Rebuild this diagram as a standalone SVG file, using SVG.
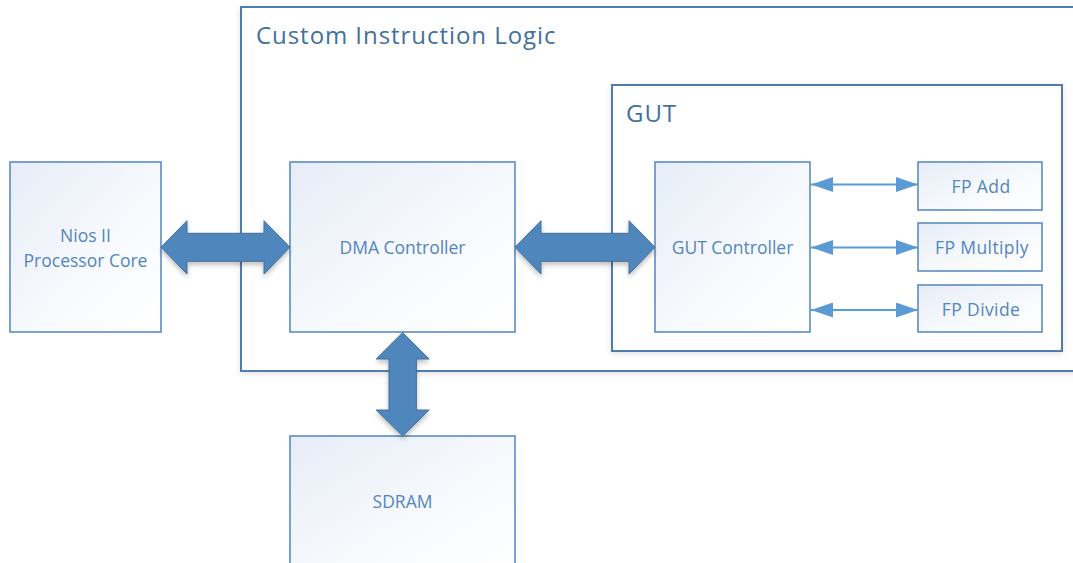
<svg xmlns="http://www.w3.org/2000/svg" width="1073" height="563" viewBox="0 0 1073 563">
  <style>
    .frame { fill: #ffffff; stroke: #4f7cad; stroke-width: 2; }
    .block { fill: url(#blockFill); stroke: #5b8cc2; stroke-width: 1.6; }
    .title { font-family: "Open Sans", "Noto Sans", sans-serif; font-size: 24px; letter-spacing: 0.95px; fill: #41719c; }
    .label { font-family: "Open Sans", "Noto Sans", sans-serif; font-size: 17.5px; fill: #5286c0; text-anchor: middle; }
    .small { font-size: 17.5px; letter-spacing: 0.4px; }
    .bus { fill: #4f87bd; stroke: #41719c; stroke-width: 1; filter: url(#softShadow); }
    .link { stroke: #5b9bd5; stroke-width: 2; fill: none; marker-start: url(#headStart); marker-end: url(#headEnd); }
  </style>
  <defs>
    <linearGradient id="blockFill" x1="0" y1="0" x2="1" y2="1">
      <stop offset="0" stop-color="#e6edf7"/>
      <stop offset="0.6" stop-color="#f8fafd"/>
      <stop offset="1" stop-color="#ffffff"/>
    </linearGradient>
    <filter id="softShadow" x="-20%" y="-20%" width="140%" height="150%">
      <feGaussianBlur in="SourceAlpha" stdDeviation="2.5"/>
      <feOffset dx="0" dy="3" result="blur"/>
      <feComponentTransfer><feFuncA type="linear" slope="0.25"/></feComponentTransfer>
      <feMerge><feMergeNode/><feMergeNode in="SourceGraphic"/></feMerge>
    </filter>
    <filter id="frameShadow" x="-5%" y="-5%" width="110%" height="115%">
      <feGaussianBlur in="SourceAlpha" stdDeviation="3"/>
      <feOffset dx="0" dy="2"/>
      <feComponentTransfer><feFuncA type="linear" slope="0.12"/></feComponentTransfer>
      <feMerge><feMergeNode/><feMergeNode in="SourceGraphic"/></feMerge>
    </filter>
    <marker id="headEnd" markerUnits="userSpaceOnUse" markerWidth="24" markerHeight="16" refX="22" refY="7.5" orient="auto">
      <path d="M0,0 L22,7.5 L0,15 Z" fill="#5b9bd5"/>
    </marker>
    <marker id="headStart" markerUnits="userSpaceOnUse" markerWidth="24" markerHeight="16" refX="0" refY="7.5" orient="auto">
      <path d="M22,0 L0,7.5 L22,15 Z" fill="#5b9bd5"/>
    </marker>
  </defs>

  <!-- outer container -->
  <g id="custom-instruction-logic">
    <rect class="frame" x="241" y="7" width="850" height="364" filter="url(#frameShadow)"/>
    <text class="title" x="256" y="44">Custom Instruction Logic</text>
  </g>

  <g id="gut">
    <rect class="frame" x="612" y="85" width="450" height="266" filter="url(#frameShadow)"/>
    <text class="title" x="626" y="122">GUT</text>
  </g>

  <g id="nios">
    <rect class="block" x="10" y="162" width="151" height="170"/>
    <text class="label" x="85.5" y="242">Nios II</text>
    <text class="label" x="85.5" y="267">Processor Core</text>
  </g>

  <g id="dma-controller">
    <rect class="block" x="290" y="162" width="225" height="170"/>
    <text class="label" x="402.5" y="254">DMA Controller</text>
  </g>

  <g id="gut-controller">
    <rect class="block" x="655" y="162" width="155" height="170"/>
    <text class="label" x="732.5" y="254">GUT Controller</text>
  </g>

  <g id="fp-add">
    <rect class="block" x="918" y="162" width="124" height="48"/>
    <text class="label small" x="981" y="192.5">FP Add</text>
  </g>

  <g id="fp-multiply">
    <rect class="block" x="918" y="223" width="124" height="48"/>
    <text class="label small" x="982" y="254">FP Multiply</text>
  </g>

  <g id="fp-divide">
    <rect class="block" x="918" y="285" width="124" height="47"/>
    <text class="label small" x="981" y="315.5">FP Divide</text>
  </g>

  <g id="sdram">
    <rect class="block" x="290" y="436" width="225" height="140"/>
    <text class="label" x="402.5" y="508">SDRAM</text>
  </g>

  <!-- connectors -->
  <g id="connectors">
    <polygon class="bus" points="161,247.3 187,220.7 187,233.3 264,233.3 264,220.7 290,247.3 264,274 264,261.3 187,261.3 187,274"/>
    <polygon class="bus" points="515,247.3 541,220.7 541,233.3 629,233.3 629,220.7 655,247.3 629,274 629,261.3 541,261.3 541,274"/>
    <polygon class="bus" points="402.7,332.7 429.2,359 416.4,359 416.4,410 429.2,410 402.7,436 376.2,410 389,410 389,359 376.2,359"/>
    <line class="link" x1="811" y1="184.5" x2="918" y2="184.5"/>
    <line class="link" x1="811" y1="247.5" x2="918" y2="247.5"/>
    <line class="link" x1="811" y1="310" x2="918" y2="310"/>
  </g>
</svg>
